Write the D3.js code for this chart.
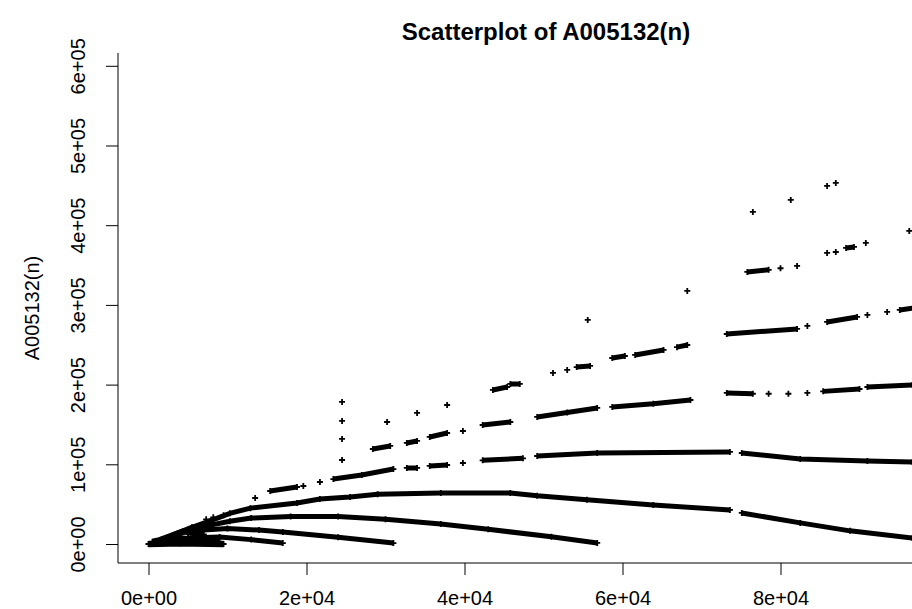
<!DOCTYPE html>
<html>
<head>
<meta charset="utf-8">
<script src="https://cdn.jsdelivr.net/npm/d3@7"></script>
<style>
  body { margin: 0; background: #fff; }
  text { font-family: "Liberation Sans", Arial, sans-serif; fill: #000; }
</style>
</head>
<body>
<div id="chart"></div>
<script>
// values: [n, A005132(n)], null = visible gap
const blobLow = [[0, 0], [4000, 800], [9500, 0]];
const blobMid = [[500, 2500], [3000, 8000], [6000, 5000], [9000, 2500]];
const blobUp = [[1500, 5000], [4500, 16000], [7000, 12000]];
const blobTop = [[3000, 10000], [5500, 20000], [7500, 22500]];

const bandA = [[5000, 7500], [9000, 8800], [13000, 5500], [17000, 1200]];
const bandB = [[6000, 17000], [10000, 19500], [14000, 17500], [17000, 15000], [24000, 8500], [31000, 1200]];
const bandC = [[5500, 18000], [8000, 24000], [10300, 28500], [13000, 32500], [18000, 34500], [24000, 34500],
    [30000, 31000], [37000, 25000], [43000, 18500], [51000, 9000], [56800, 1300]];
const bandD = [[5500, 21000], [7800, 29000], [10300, 38500], [12900, 45000], [18800, 51500], [21700, 56500],
    [25500, 59000], [29000, 62500], [37000, 64000], [45800, 64000], [49200, 60500], [55500, 55500],
    [63900, 49000], [73600, 42700], null,
    [75100, 39000], [82500, 26500], [88800, 16500], [96700, 7500], [100000, 4000]];
const bandE = [[15400, 66500], [18800, 71500], null, [19600, 72800], null, [21700, 77800], null,
    [23400, 81500], [27000, 86600], [31000, 94000], null, [32700, 95400], [34000, 95400], null,
    [35600, 97900], [37800, 99100], null, [39800, 101600], null, [42300, 105000], [47400, 107500], null,
    [49200, 110400], [56800, 114200], [73600, 115500], null,
    [75100, 114200], [82500, 106700], [91000, 104200], [96700, 102900], [100000, 102500]];
const bandF = [[28400, 119200], [30600, 123000], null, [32700, 126800], [34000, 129300], null,
    [35600, 134300], [37800, 139300], null, [39800, 141800], null, [42300, 149300], [45800, 153100], null,
    [49200, 159400], [53000, 165000], [56800, 170700], null, [58700, 172000], [63900, 176000], [68600, 180700], null,
    [73200, 189500], [76500, 188500], null, [78500, 188500], null, [81000, 188500], null, [83400, 189500], null,
    [85400, 191500], [90000, 194500], null, [91000, 197000], [96700, 199500], [100000, 200000]];
const bandG = [[43600, 193300], [45400, 197000], null, [45800, 200800], [47000, 200800], null,
    [51200, 214600], null, [53000, 218400], null, [54200, 222000], [55900, 223400], null,
    [58700, 233400], [60300, 235900], null, [61600, 237200], [65200, 243500], null, [66900, 247000], [68200, 249700], null,
    [73200, 263500], [82100, 269800], null, [83400, 273600], null, [85900, 278600], [89700, 284900], null,
    [91000, 287400], null, [93500, 291200], null, [95100, 293700], [100000, 300000]];
const bandH = [[75800, 341400], [78500, 344000], null, [80000, 346000], null, [82100, 348900], null,
    [85900, 365200], null, [87000, 366400], null, [88300, 371500], [89300, 372700], null, [90800, 377800]];

const loosePoints = [[13500, 57700], [24500, 178200], [24500, 154400], [24500, 131800], [24500, 105400],
    [30200, 153100], [34000, 164400], [37800, 174400], [55600, 281100], [68200, 317500],
    [76500, 416700], [81300, 431700], [85900, 449300], [87000, 453100], [96300, 392800],
    [7300, 31000], [8200, 33500], [9500, 36000]];

const xTicks = [0, 20000, 40000, 60000, 80000, 100000];
const yTicks = [0, 100000, 200000, 300000, 400000, 500000, 600000];
const xTickLabels = ["0e+00", "2e+04", "4e+04", "6e+04", "8e+04", "1e+05"];
const yTickLabels = ["0e+00", "1e+05", "2e+05", "3e+05", "4e+05", "5e+05", "6e+05"];

const width = 912;
const height = 609;
const plot = { left: 118, top: 53, bottom: 563, right: 970 };

const svg = d3.select("#chart")
    .append("svg")
    .attr("width", width)
    .attr("height", height);

svg.append("rect").attr("width", width).attr("height", height).attr("fill", "#fff");

const xScale = d3.scaleLinear().domain([0, 100000]).range([148.5, 938.5]);
const yScale = d3.scaleLinear().domain([0, 600000]).range([544, 65.8]);

// L-shaped frame like bty = "l"
svg.append("path")
    .attr("d", "M" + plot.left + "," + plot.top + "V" + plot.bottom + "H" + plot.right)
    .attr("fill", "none")
    .attr("stroke", "#000")
    .attr("stroke-width", 1);

const xAxis = d3.axisBottom(xScale)
    .tickValues(xTicks)
    .tickFormat((d, i) => xTickLabels[i])
    .tickSize(12)
    .tickPadding(16);

svg.append("g")
    .attr("transform", "translate(0," + plot.bottom + ")")
    .call(xAxis)
    .call(g => g.select(".domain").remove())
    .call(g => g.selectAll("text").style("font-size", "20px").attr("fill", "#000"));

const yAxis = d3.axisLeft(yScale)
    .tickValues(yTicks)
    .tickFormat((d, i) => yTickLabels[i])
    .tickSize(12);

svg.append("g")
    .attr("transform", "translate(" + plot.left + ",0)")
    .call(yAxis)
    .call(g => g.select(".domain").remove())
    .call(g => g.selectAll("text")
        .style("font-size", "20px")
        .attr("fill", "#000")
        .attr("x", null)
        .attr("dy", null)
        .attr("text-anchor", "middle")
        .attr("transform", "translate(-38,0) rotate(-90)")
        .attr("dominant-baseline", "middle"));

svg.append("text")
    .attr("x", 546)
    .attr("y", 40)
    .attr("text-anchor", "middle")
    .style("font-size", "24px")
    .style("font-weight", "bold")
    .text("Scatterplot of A005132(n)");

svg.append("text")
    .attr("transform", "translate(39,308) rotate(-90)")
    .attr("text-anchor", "middle")
    .style("font-size", "20px")
    .text("A005132(n)");

const blobs = [blobLow, blobMid, blobUp, blobTop];
const bands = [bandA, bandB, bandC, bandD, bandE, bandF, bandG, bandH];

const line = d3.line()
    .defined(d => d !== null)
    .x(d => xScale(d[0]))
    .y(d => yScale(d[1]));

const marks = svg.append("g").attr("class", "marks");

marks.selectAll("path.blob")
    .data(blobs)
    .enter()
    .append("path")
    .attr("class", "blob")
    .attr("d", line)
    .attr("fill", "none")
    .attr("stroke", "#000")
    .attr("stroke-width", 6.5)
    .attr("stroke-linejoin", "round");

marks.selectAll("path.band")
    .data(bands)
    .enter()
    .append("path")
    .attr("class", "band")
    .attr("d", line)
    .attr("fill", "none")
    .attr("stroke", "#000")
    .attr("stroke-width", 5);

const plusPoints = blobs.concat(bands).flat().filter(d => d !== null).concat(loosePoints);

marks.selectAll("path.plus")
    .data(plusPoints)
    .enter()
    .append("path")
    .attr("class", "plus")
    .attr("transform", d => "translate(" + xScale(d[0]) + "," + yScale(d[1]) + ")")
    .attr("d", "M-3,0H3M0,-3V3")
    .attr("stroke", "#000")
    .attr("stroke-width", 1.8);
</script>
</body>
</html>
